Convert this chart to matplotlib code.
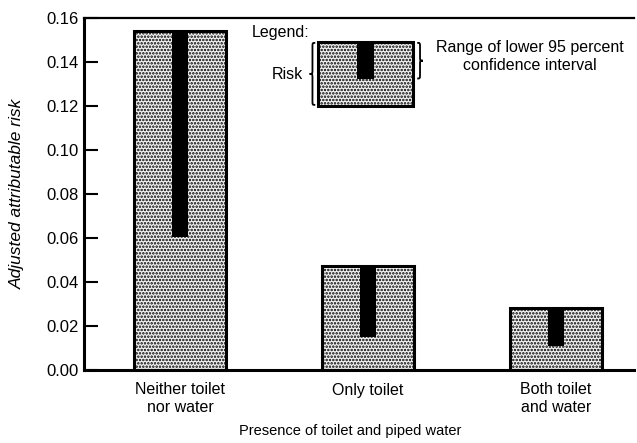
import matplotlib
matplotlib.use("Agg")
import matplotlib.pyplot as plt
from matplotlib.path import Path
from matplotlib.patches import PathPatch, Rectangle

plt.rcParams['font.family'] = ['Liberation Sans', 'DejaVu Sans']
plt.rcParams['hatch.color'] = 'black'
plt.rcParams['hatch.linewidth'] = 1.2

categories = ["Neither toilet\nnor water", "Only toilet", "Both toilet\nand water"]
risk = [0.154, 0.0474, 0.0283]
lower_ci = [0.0605, 0.015, 0.011]
y_ticks = [0.00, 0.02, 0.04, 0.06, 0.08, 0.10, 0.12, 0.14, 0.16]

FS = 11.5

fig = plt.figure(figsize=(6.37, 4.43), dpi=100)
ax = fig.add_axes([84/637, (443-370)/443, (634-84)/637, (370-18)/443])

x = list(range(len(categories)))
ax.bar(x, risk, width=0.49, facecolor='#f2f2f2', edgecolor='black', hatch='.....', linewidth=2, zorder=2)
ax.bar(x, [r - l for r, l in zip(risk, lower_ci)], bottom=lower_ci, width=0.085,
       color='black', linewidth=0, zorder=3)
ax.bar(x, risk, width=0.49, facecolor='none', edgecolor='black', linewidth=2.2, zorder=4)

ax.set_xlim(-0.51, 2.415)
ax.set_ylim(0, 0.16)
ax.set_yticks(y_ticks)
ax.set_yticklabels([f"{v:.2f}" for v in y_ticks], fontsize=12)
ax.set_xticks(x)
ax.set_xticklabels(categories, fontsize=FS, linespacing=1.2)
ax.tick_params(axis='y', direction='in', length=10, width=1.5, pad=4)
ax.tick_params(axis='x', length=0, pad=9)
ax.spines['top'].set_linewidth(1.6)
ax.spines['left'].set_linewidth(2.2)
ax.spines['bottom'].set_linewidth(2.2)
ax.spines['right'].set_visible(False)
ax.set_ylabel("Adjusted attributable risk", fontsize=12.5, style='italic')
ax.yaxis.set_label_coords(-0.107, 0.5)
ax.set_xlabel("Presence of toilet and piped water", fontsize=10.5)
ax.xaxis.set_label_coords(0.484, -0.154)

# legend drawn inside the plot
lx0, lx1, ly0, ly1 = 0.734, 1.24, 0.120, 0.149
ax.add_patch(Rectangle((lx0, ly0), lx1 - lx0, ly1 - ly0, facecolor='#f2f2f2', edgecolor='black',
                       hatch='.....', linewidth=2, zorder=2))
ax.add_patch(Rectangle(((lx0 + lx1)/2 - 0.045, 0.1325), 0.09, ly1 - 0.1325, facecolor='black',
                       linewidth=0, zorder=3))
ax.add_patch(Rectangle((lx0, ly0), lx1 - lx0, ly1 - ly0, facecolor='none', edgecolor='black',
                       linewidth=2.2, zorder=4))


def brace(xe, y0, y1, w, d=0.002):
    xc = xe + w/2
    xm = xe + w
    ym = (y0 + y1)/2
    verts = [(xe, y1), (xc, y1), (xc, y1), (xc, y1 - d),
             (xc, ym + d), (xc, ym), (xc, ym), (xm, ym),
             (xc, ym), (xc, ym), (xc, ym - d),
             (xc, y0 + d), (xc, y0), (xc, y0), (xe, y0)]
    codes = [Path.MOVETO, Path.CURVE4, Path.CURVE4, Path.CURVE4,
             Path.LINETO, Path.CURVE4, Path.CURVE4, Path.CURVE4,
             Path.CURVE4, Path.CURVE4, Path.CURVE4,
             Path.LINETO, Path.CURVE4, Path.CURVE4, Path.CURVE4]
    ax.add_patch(PathPatch(Path(verts, codes), facecolor='none', edgecolor='black', lw=1.3, zorder=5))


brace(0.72, 0.1205, 0.1487, -0.03)
brace(1.262, 0.1325, 0.1487, 0.03)

ax.text(0.382, 0.1535, "Legend:", fontsize=FS, ha='left', va='center')
ax.text(0.655, 0.1345, "Risk", fontsize=FS, ha='right', va='center')
ax.text(1.862, 0.1425, "Range of lower 95 percent\nconfidence interval", fontsize=FS,
        ha='center', va='center', linespacing=1.2)

fig.savefig("out.png", dpi=100)
